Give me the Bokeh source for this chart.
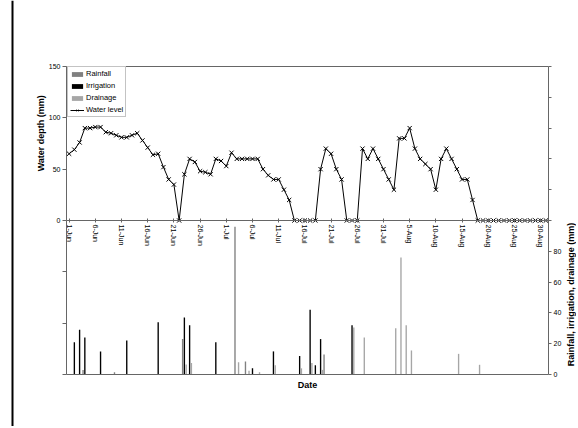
import math
from bokeh.plotting import figure
from bokeh.models import Range1d, LinearAxis, FixedTicker, ColumnDataSource, Label, Span
from bokeh.transform import dodge
from bokeh.embed import file_html
from bokeh.resources import INLINE

# ---- data ----
# day index 0 = 1-Jun ... 91 = 31-Aug
days = list(range(92))
water_level = [65, 69, 76, 90, 90, 91, 91, 86, 85, 83,
               81, 81, 83, 85, 78, 71, 64, 65, 52, 40,
               35, 0, 45, 60, 57, 48, 47, 45, 60, 58,
               53, 66, 60, 60, 60, 60, 60, 50, 44, 40,
               40, 30, 20, 0, 0, 0, 0, 0, 50, 70,
               65, 50, 40, 0, 0, 0, 70, 60, 70, 60,
               50, 40, 30, 80, 80, 90, 70, 60, 55, 50,
               30, 60, 70, 60, 50, 40, 40, 20, 0, 0,
               0, 0, 0, 0, 0, 0, 0, 0, 0, 0, 0, 0]

rain_days = [3, 9, 22, 32, 34, 49]
rain_mm = [3, 1.5, 23, 96, 8.4, 13]

irr_days = [1, 2, 3, 6, 11, 17, 22, 23, 28, 35, 39, 44, 46, 47, 48, 54]
irr_mm = [21, 29, 24, 15, 22, 34, 37, 32, 21, 4, 15, 12, 42, 6, 23, 32]

drain_days = [22, 23, 32, 34, 36, 39, 44, 46, 48, 54, 56, 62, 63, 64, 65, 74, 78]
drain_mm = [6.5, 7.5, 8, 2.4, 1.5, 6, 4, 7.5, 3, 30.5, 24, 30, 76, 32, 15.6, 13.4, 6.3]

tick_days = [0, 5, 10, 15, 20, 25, 30, 35, 40, 45, 50, 55, 60, 65, 70, 75, 80, 85, 90]
tick_labels = ["1-Jun", "6-Jun", "11-Jun", "16-Jun", "21-Jun", "26-Jun", "1-Jul",
               "6-Jul", "11-Jul", "16-Jul", "21-Jul", "26-Jul", "31-Jul", "5-Aug",
               "10-Aug", "15-Aug", "20-Aug", "25-Aug", "30-Aug"]

depth_ticks_labelled = [0, 50, 100, 150]
depth_ticks_plain = [-150, -100, -50]
bar_ticks_labelled = [0, 20, 40, 60, 80]
bar_ticks_plain = [100, 120, 140, 160, 180, 200]

# ---- layout (canvas pixels) ----
FONT = "Liberation Sans"
AXIS_COL = "#666666"
W, H = 576, 426
PL, PR, PT, PB = 66, 548, 66, 374          # plot-area box
X0, X1 = -0.5, 91.5                         # days shown in the plot area
Y0, Y1 = -150, 150                          # water depth axis (lower half unlabelled)
B0, B1 = 0, 200                             # rainfall/irrigation/drainage axis

dx = (X1 - X0) / (PR - PL)
dy = (Y1 - Y0) / (PB - PT)
db = (B1 - B0) / (PB - PT)
x_range = Range1d(X0 - PL * dx, X1 + (W - PR) * dx)
y_range = Range1d(Y0 - (H - PB) * dy, Y1 + PT * dy)

p = figure(width=W, height=H, x_range=x_range, y_range=y_range,
           x_axis_location=None, y_axis_location=None,
           output_backend="svg", toolbar_location=None,
           min_border=0, min_border_left=0, min_border_right=0,
           min_border_top=0, min_border_bottom=0)
p.extra_y_ranges = {"bars": Range1d(B0 - (H - PB) * db, B1 + PT * db)}
p.xgrid.visible = False
p.ygrid.visible = False
p.outline_line_color = None
p.background_fill_color = "white"
p.border_fill_color = "white"


def make_axis(labels=True, **kw):
    ax = LinearAxis(**kw)
    ax.major_label_text_font = FONT
    ax.major_label_text_font_size = "7px"
    ax.major_label_text_color = "black" if labels else None
    ax.minor_tick_line_color = None
    ax.axis_line_color = AXIS_COL
    ax.major_tick_line_color = AXIS_COL
    return ax


# date axis along water depth 0
xa = make_axis(fixed_location=0, bounds=(X0, X1), ticker=FixedTicker(ticks=tick_days))
xa.major_label_overrides = {d: l for d, l in zip(tick_days, tick_labels)}
xa.major_label_orientation = -math.pi / 2
xa.major_label_standoff = 2
xa.major_tick_in = 2
xa.major_tick_out = 2
p.add_layout(xa, "below")

# plot-area top and bottom edges
for loc, side in ((Y0, "below"), (Y1, "above")):
    e = make_axis(labels=False, fixed_location=loc, bounds=(X0, X1), ticker=FixedTicker(ticks=[]))
    e.major_tick_line_color = None
    p.add_layout(e, side)

# left axis: water depth
ya = make_axis(fixed_location=X0, bounds=(0, Y1), ticker=FixedTicker(ticks=depth_ticks_labelled))
ya.major_label_standoff = 2
ya.major_tick_in = 0
ya.major_tick_out = 4
p.add_layout(ya, "left")
yb = make_axis(labels=False, fixed_location=X0, bounds=(Y0, 0), ticker=FixedTicker(ticks=depth_ticks_plain))
yb.major_tick_in = 0
yb.major_tick_out = 4
p.add_layout(yb, "left")

# right axis: rainfall, irrigation, drainage
ra = make_axis(y_range_name="bars", fixed_location=X1, bounds=(B0, 100),
               ticker=FixedTicker(ticks=bar_ticks_labelled))
ra.major_label_standoff = 2
ra.major_tick_in = 0
ra.major_tick_out = 3
p.add_layout(ra, "right")
rb = make_axis(labels=False, y_range_name="bars", fixed_location=X1, bounds=(100, B1),
               ticker=FixedTicker(ticks=bar_ticks_plain))
rb.major_tick_in = 0
rb.major_tick_out = 3
p.add_layout(rb, "right")

# bars
RAIN_COL = "#808080"
IRR_COL = "#000000"
DRAIN_COL = "#a6a6a6"
BW = 0.26
rain_src = ColumnDataSource(dict(day=rain_days, mm=rain_mm))
irr_src = ColumnDataSource(dict(day=irr_days, mm=irr_mm))
drain_src = ColumnDataSource(dict(day=drain_days, mm=drain_mm))
p.vbar(x=dodge("day", -0.34, range=p.x_range), top="mm", bottom=0, width=BW, source=rain_src,
       y_range_name="bars", fill_color=RAIN_COL, line_color=None, legend_label="Rainfall")
p.vbar(x=dodge("day", 0.0, range=p.x_range), top="mm", bottom=0, width=BW, source=irr_src,
       y_range_name="bars", fill_color=IRR_COL, line_color=None, legend_label="Irrigation")
p.vbar(x=dodge("day", 0.34, range=p.x_range), top="mm", bottom=0, width=BW, source=drain_src,
       y_range_name="bars", fill_color=DRAIN_COL, line_color=None, legend_label="Drainage")

# water level
wsrc = ColumnDataSource(dict(day=days, wl=water_level))
p.line("day", "wl", source=wsrc, line_color="black", line_width=1, legend_label="Water level")
p.scatter("day", "wl", source=wsrc, marker="x", size=6, line_color="black", line_width=1,
          legend_label="Water level")

lg = p.legend[0]
lg.location = (PL + 1, H - 117)
lg.margin = 0
lg.padding = 2
lg.spacing = 3
lg.glyph_width = 14
lg.glyph_height = 6
lg.label_height = 9
lg.label_standoff = 2
lg.label_text_font = FONT
lg.label_text_font_size = "7.5px"
lg.label_text_color = "black"
lg.border_line_color = "#888888"
lg.border_line_width = 1
lg.background_fill_alpha = 1

# axis titles
TITLE = dict(text_font=FONT, text_font_size="9px", text_font_style="bold", text_color="black",
             text_align="center", text_baseline="middle")
p.add_layout(Label(x=X0, y=85, x_offset=-26, angle=math.pi / 2, text="Water depth (mm)", **TITLE))
p.add_layout(Label(x=X1, y=52, y_range_name="bars", x_offset=22, angle=math.pi / 2,
                   text="Rainfall, irrigation, drainage (mm)", **TITLE))
p.add_layout(Label(x=(X0 + X1) / 2, y=Y0, y_offset=-10, text="Date", **TITLE))

# chart-area frame edge on the left
p.add_layout(Span(location=X0 - (PL - 12) * dx, dimension="height", line_color="black", line_width=2))

open("out.html", "w").write(file_html(p, INLINE))
